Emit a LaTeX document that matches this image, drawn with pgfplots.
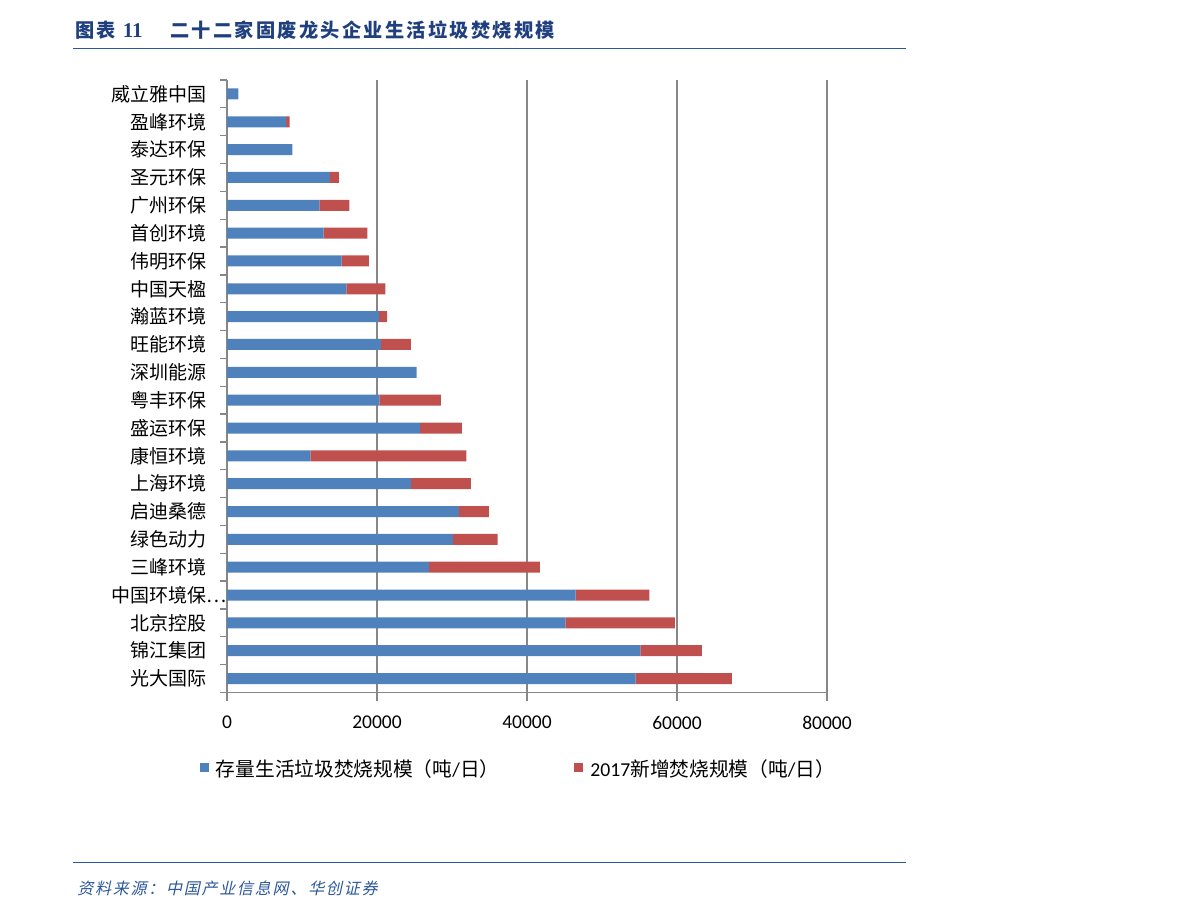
\documentclass[border=0pt]{standalone}
\usepackage{fontspec}
\usepackage{pgfplots}
\pgfplotsset{compat=1.18}
\setmainfont{Carlito}
\newfontfamily\cjk{Noto Sans CJK SC}
\newfontfamily\cjkt[LetterSpace=12]{Noto Sans CJK SC}
\newfontfamily\cjks[FakeSlant=0.22,LetterSpace=11]{Noto Sans CJK SC}
\newfontfamily\tnr{Liberation Serif}
\definecolor{barblue}{HTML}{4F81BD}
\definecolor{barred}{HTML}{C0504D}
\definecolor{titleblue}{HTML}{1F3F7F}
\definecolor{rulecol}{HTML}{2B579A}
\definecolor{gridgray}{HTML}{878787}

\begin{document}
\begin{tikzpicture}
% page is 1191 x 918 px, 1 px = 0.5pt
\path (0pt,0pt) rectangle (595.5pt,459pt);

% title and rules
\node[anchor=west, inner sep=0pt, text=titleblue, font=\cjkt\bfseries\fontsize{9.6}{11}\selectfont] at (37.5pt,444pt) {图表 {\tnr\bfseries\fontsize{10.5}{11}\selectfont 11}};
\node[anchor=west, inner sep=0pt, text=titleblue, font=\cjkt\bfseries\fontsize{9.6}{11}\selectfont] at (85pt,444pt) {二十二家固废龙头企业生活垃圾焚烧规模};
\draw[rulecol, line width=0.75pt] (36.5pt,434.85pt) -- (453pt,434.85pt);
\draw[rulecol, line width=0.75pt] (36.5pt,27.65pt) -- (453pt,27.65pt);
\node[anchor=west, inner sep=0pt, text=rulecol, font=\cjks\fontsize{8}{10}\selectfont] at (38.5pt,15pt) {资料来源：中国产业信息网、华创证券};

\begin{axis}[
  at={(113.5pt,112.75pt)}, anchor=south west,
  scale only axis, width=300pt, height=306.25pt,
  xbar stacked, bar width=5.5pt,
  xmin=0, xmax=80000, ymin=-0.5, ymax=21.5,
  xtick={0,20000,40000,60000,80000},
  scaled x ticks=false,
  xticklabel style={font=\fontsize{9.75}{11}\selectfont,
    /pgf/number format/1000 sep={},
    /pgf/number format/assume math mode=true,
    anchor=center, yshift=-11pt},
  ytick={0,...,21},
  yticklabels={光大国际,锦江集团,北京控股,中国环境保\rlap{…},三峰环境,绿色动力,启迪桑德,上海环境,康恒环境,盛运环保,粤丰环保,深圳能源,旺能环境,瀚蓝环境,中国天楹,伟明环保,首创环境,广州环保,圣元环保,泰达环保,盈峰环境,威立雅中国},
  yticklabel style={font=\cjk\fontsize{9.5}{11}\selectfont, anchor=east, inner sep=0pt, xshift=-6pt},
  minor ytick={-0.5,0.5,...,21.5},
  tick align=outside,
  major tick length=4pt, minor tick length=3.5pt,
  major y tick style={draw=none},
  tick style={gridgray, line width=0.65pt},
  axis line style={gridgray, line width=0.65pt},
  axis x line*=bottom, axis y line*=left,
  xmajorgrids, major grid style={gridgray, line width=0.65pt},
  legend columns=2,
  legend style={at={(-0.045,-0.1257)}, anchor=west, draw=none, fill=none,
    inner sep=0pt, outer sep=0pt, nodes={inner sep=0pt},
    font=\cjk\fontsize{9.85}{11}\selectfont,
    /tikz/every odd column/.append style={column sep=3.5pt},
    /tikz/every even column/.append style={column sep=37.5pt}},
]
\addplot[fill=barblue, draw=none,
  legend image code/.code={\fill[barblue] (0pt,-1.2pt) rectangle (4.5pt,3.3pt);}]
  coordinates {(54490,0) (55110,1) (45110,2) (46490,3) (26930,4) (30130,5) (30930,6) (24530,7) (11110,8) (25730,9) (20310,10) (25290,11) (20530,12) (20270,13) (15910,14) (15290,15) (12890,16) (12310,17) (13730,18) (8710,19) (7870,20) (1500,21)};
\addplot[fill=barred, draw=none,
  legend image code/.code={\fill[barred] (0pt,-1.2pt) rectangle (4.5pt,3.3pt);}]
  coordinates {(12840,0) (8220,1) (14620,2) (9820,3) (14800,4) (5960,5) (4000,6) (8000,7) (20800,8) (5600,9) (8220,10) (0,11) (4000,12) (1070,13) (5200,14) (3640,15) (5820,16) (4000,17) (1200,18) (0,19) (490,20) (0,21)};
\legend{存量生活垃圾焚烧规模（吨{\rmfamily /}日）,{\rmfamily 2017}新增焚烧规模（吨{\rmfamily /}日）}
\end{axis}
\end{tikzpicture}
\end{document}
